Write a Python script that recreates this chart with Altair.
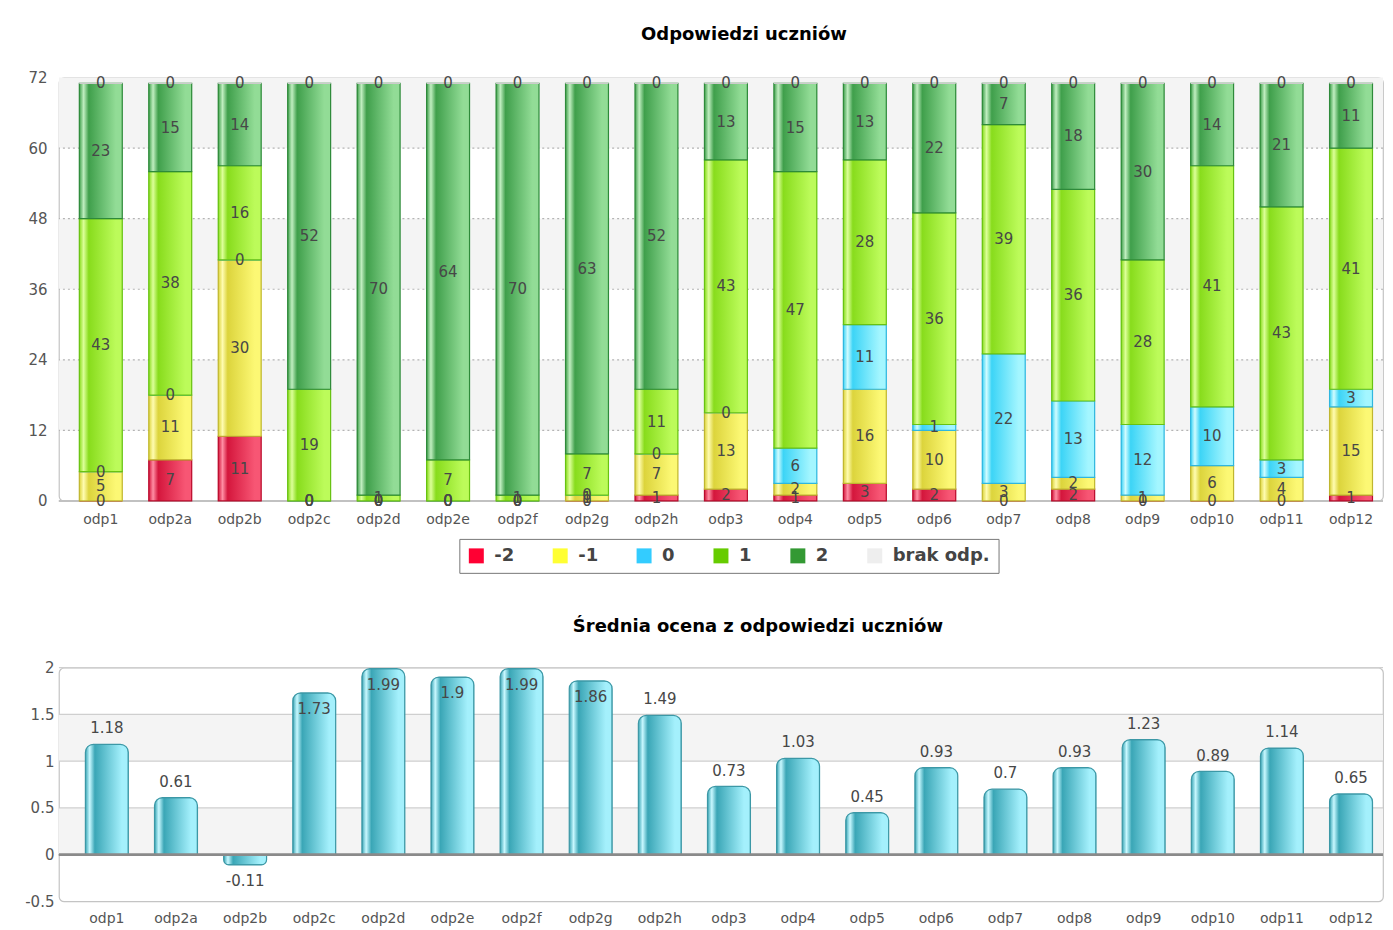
import altair as alt
import pandas as pd

# ---------------- data ----------------
questions = ["odp1", "odp2a", "odp2b", "odp2c", "odp2d", "odp2e", "odp2f", "odp2g", "odp2h",
             "odp3", "odp4", "odp5", "odp6", "odp7", "odp8", "odp9", "odp10", "odp11", "odp12"]
categories = ["-2", "-1", "0", "1", "2", "brak odp."]

n_minus2 = [0, 7, 11, 0, 0, 0, 0, 0, 1, 2, 1, 3, 2, 0, 2, 0, 0, 0, 1]
n_minus1 = [5, 11, 30, 0, 0, 0, 0, 1, 7, 13, 2, 16, 10, 3, 2, 1, 6, 4, 15]
n_zero = [0, 0, 0, 0, 0, 0, 0, 0, 0, 0, 6, 11, 1, 22, 13, 12, 10, 3, 3]
n_plus1 = [43, 38, 16, 19, 1, 7, 1, 7, 11, 43, 47, 28, 36, 39, 36, 28, 41, 43, 41]
n_plus2 = [23, 15, 14, 52, 70, 64, 70, 63, 52, 13, 15, 13, 22, 7, 18, 30, 14, 21, 11]
n_brak = [0, 0, 0, 0, 0, 0, 0, 0, 0, 0, 0, 0, 0, 0, 0, 0, 0, 0, 0]

means = [1.18, 0.61, -0.11, 1.73, 1.99, 1.9, 1.99, 1.86, 1.49, 0.73, 1.03, 0.45,
         0.93, 0.7, 0.93, 1.23, 0.89, 1.14, 0.65]

top_ticks = [0, 12, 24, 36, 48, 60, 72]
bottom_ticks = [-0.5, 0, 0.5, 1, 1.5, 2]

legend_colors = ["#ff0033", "#ffff33", "#33ccff", "#66cc00", "#339933", "#eeeeee"]
# per category: (dark, light, highlight, stroke)
bar_styles = {
    "-2": ("#d4163c", "#f75674", "#ff8ea4", "#b80c2c"),
    "-1": ("#dcd43c", "#fcf874", "#fffcb0", "#bfb630"),
    "0": ("#3cd4f6", "#a4f6ff", "#d0fcff", "#2fb6de"),
    "1": ("#88dc1c", "#bcfb5a", "#dcff98", "#68c212"),
    "2": ("#3f9f4b", "#92dc96", "#c0eec0", "#2e8a3a"),
    "brak odp.": ("#e4e4e4", "#f6f6f6", "#ffffff", "#cccccc"),
}

FONT = "DejaVu Sans"

# ---------------- tables ----------------
counts = [n_minus2, n_minus1, n_zero, n_plus1, n_plus2, n_brak]
rows = []
for ci, (cat, vals) in enumerate(zip(categories, counts)):
    for q, v in zip(questions, vals):
        rows.append({"q": q, "cat": cat, "ord": ci, "n": v})
df = pd.DataFrame(rows)

df_mean = pd.DataFrame({"q": questions, "v": means, "label": [str(m) for m in means]})

top_bands = pd.DataFrame({"a": top_ticks[1:-1:2], "b": top_ticks[2::2]})
top_grid = pd.DataFrame({"y": top_ticks[1:-1]})
bot_bands = pd.DataFrame({"a": [bottom_ticks[1], bottom_ticks[3]], "b": [bottom_ticks[2], bottom_ticks[4]]})
bot_grid = pd.DataFrame({"y": bottom_ticks[1:]})


def grad(dark, light, hi):
    return alt.LinearGradient(
        gradient="linear", x1=0, x2=1, y1=0, y2=0,
        stops=[
            alt.GradientStop(offset=0.0, color=dark),
            alt.GradientStop(offset=0.1, color=hi),
            alt.GradientStop(offset=0.22, color=dark),
            alt.GradientStop(offset=0.85, color=light),
            alt.GradientStop(offset=1.0, color=light),
        ],
    )


# ---------------- top chart ----------------
x_top = alt.X("q:N", sort=questions, title=None,
              scale=alt.Scale(domain=questions, paddingInner=0.382, paddingOuter=0.2225, align=0.66),
              axis=alt.Axis(labelAngle=0, ticks=False, domain=False, labelFontSize=14,
                            labelColor="#555", labelFont=FONT, labelPadding=12))
y_scale_top = alt.Scale(domain=[0, 72], nice=False, zero=False)
y_axis_top = alt.Axis(values=top_ticks, grid=False, ticks=False, domain=False,
                      labelFontSize=15, labelColor="#555", labelFont=FONT, labelPadding=12)

bands_t = alt.Chart(top_bands).mark_rect(color="#f4f4f4").encode(
    y=alt.Y("a:Q", scale=y_scale_top, axis=y_axis_top, title=None), y2="b:Q")
grid_t = alt.Chart(top_grid).mark_rule(color="#b4b4b4", strokeDash=[2, 3], strokeWidth=1.2).encode(
    y=alt.Y("y:Q", title=None))
base_rule = alt.Chart(top_grid).mark_rule(color="#c0c0c0", strokeWidth=1.5).encode(y=alt.datum(0))

stacked = alt.Chart(df).transform_stack(
    stack="n", groupby=["q"], as_=["y0", "y1"], sort=[alt.SortField("ord", order="ascending")]
).transform_calculate(mid="(datum.y0 + datum.y1) / 2")

legend = alt.Legend(
    orient="none", legendX=401, legendY=462, direction="horizontal", title=None,
    symbolType="square", symbolSize=225, symbolStrokeWidth=0,
    labelFontSize=18, labelFontWeight="bold", labelColor="#444", labelFont=FONT,
    labelOffset=9, columnPadding=37, padding=8, strokeColor="#777", fillColor="white",
)
base_bars = stacked.mark_bar().encode(
    x=x_top,
    y=alt.Y("y0:Q", title=None), y2="y1:Q",
    color=alt.Color("cat:N", sort=categories,
                    scale=alt.Scale(domain=categories, range=legend_colors), legend=legend),
)
grad_layers = []
for cat in categories:
    dark, light, hi, stroke = bar_styles[cat]
    grad_layers.append(
        stacked.transform_filter(alt.datum.cat == cat)
        .mark_bar(fill=grad(dark, light, hi), stroke=stroke, strokeWidth=1.2)
        .encode(x=alt.X("q:N", sort=questions), y="y0:Q", y2="y1:Q")
    )
labels_t = stacked.mark_text(font=FONT, fontSize=15, color="#474747", baseline="middle").encode(
    x=alt.X("q:N", sort=questions), y="mid:Q", text="n:Q")

top = alt.layer(bands_t, grid_t, base_rule, base_bars, *grad_layers, labels_t).properties(
    width=1326, height=424,
    title=alt.TitleParams("Odpowiedzi uczniów", fontSize=18, font=FONT, fontWeight="bold",
                          color="#000", anchor="middle", dx=23, offset=27),
)

# ---------------- bottom chart ----------------
x_bot = alt.X("q:N", sort=questions, title=None,
              scale=alt.Scale(domain=questions, paddingInner=0.379, paddingOuter=0.2675, align=0.716),
              axis=alt.Axis(labelAngle=0, ticks=False, domain=False, labelFontSize=14,
                            labelColor="#555", labelFont=FONT, labelPadding=10))
y_scale_bot = alt.Scale(domain=[-0.5, 2], nice=False, zero=False)
y_axis_bot = alt.Axis(values=bottom_ticks, grid=False, ticks=False, domain=False,
                      labelFontSize=15, labelColor="#555", labelFont=FONT, labelPadding=5,
                      labelExpr="toString(datum.value)")

bands_b = alt.Chart(bot_bands).mark_rect(color="#f4f4f4").encode(
    y=alt.Y("a:Q", scale=y_scale_bot, axis=y_axis_bot, title=None), y2="b:Q")
grid_b = alt.Chart(bot_grid).mark_rule(color="#cfcfcf", strokeWidth=1.2).encode(y=alt.Y("y:Q", title=None))
zero_b = alt.Chart(bot_grid).mark_rule(color="#8a8a8a", strokeWidth=2).encode(y=alt.datum(0))

teal = grad("#3aa6b6", "#a4f0fc", "#c8f8ff")
bars_pos = alt.Chart(df_mean).transform_filter(alt.datum.v >= 0).mark_bar(
    fill=teal, stroke="#3c98a6", strokeWidth=1.2, cornerRadiusTopLeft=8, cornerRadiusTopRight=8
).encode(x=x_bot, y=alt.Y("v:Q", title=None))
bars_neg = alt.Chart(df_mean).transform_filter(alt.datum.v < 0).mark_bar(
    fill=teal, stroke="#3c98a6", strokeWidth=1.2, cornerRadiusBottomLeft=8, cornerRadiusBottomRight=8
).encode(x=alt.X("q:N", sort=questions), y=alt.Y("v:Q", title=None))
labels_b = alt.Chart(df_mean).transform_calculate(
    ly="datum.v > 1.6 ? datum.v - 0.17 : (datum.v < 0 ? datum.v - 0.17 : datum.v + 0.17)"
).mark_text(font=FONT, fontSize=15, color="#474747", baseline="middle").encode(
    x=alt.X("q:N", sort=questions), y=alt.Y("ly:Q", title=None), text="label:N")

bottom = alt.layer(bands_b, grid_b, bars_pos, bars_neg, zero_b, labels_b).properties(
    width=1326, height=234,
    title=alt.TitleParams("Średnia ocena z odpowiedzi uczniów", fontSize=18, font=FONT,
                          fontWeight="bold", color="#000", anchor="middle", dx=37, offset=25),
)

chart = alt.vconcat(top, bottom, spacing=42).resolve_scale(
    x="independent", y="independent", color="independent"
).resolve_legend(color="independent").properties(
    padding={"left": 16, "top": 16, "right": 0, "bottom": 0}
).configure_view(stroke="#c4c4c4", strokeWidth=1.2, cornerRadius=5)

chart.save("out.html", embed_options={"renderer": "svg", "actions": False})
